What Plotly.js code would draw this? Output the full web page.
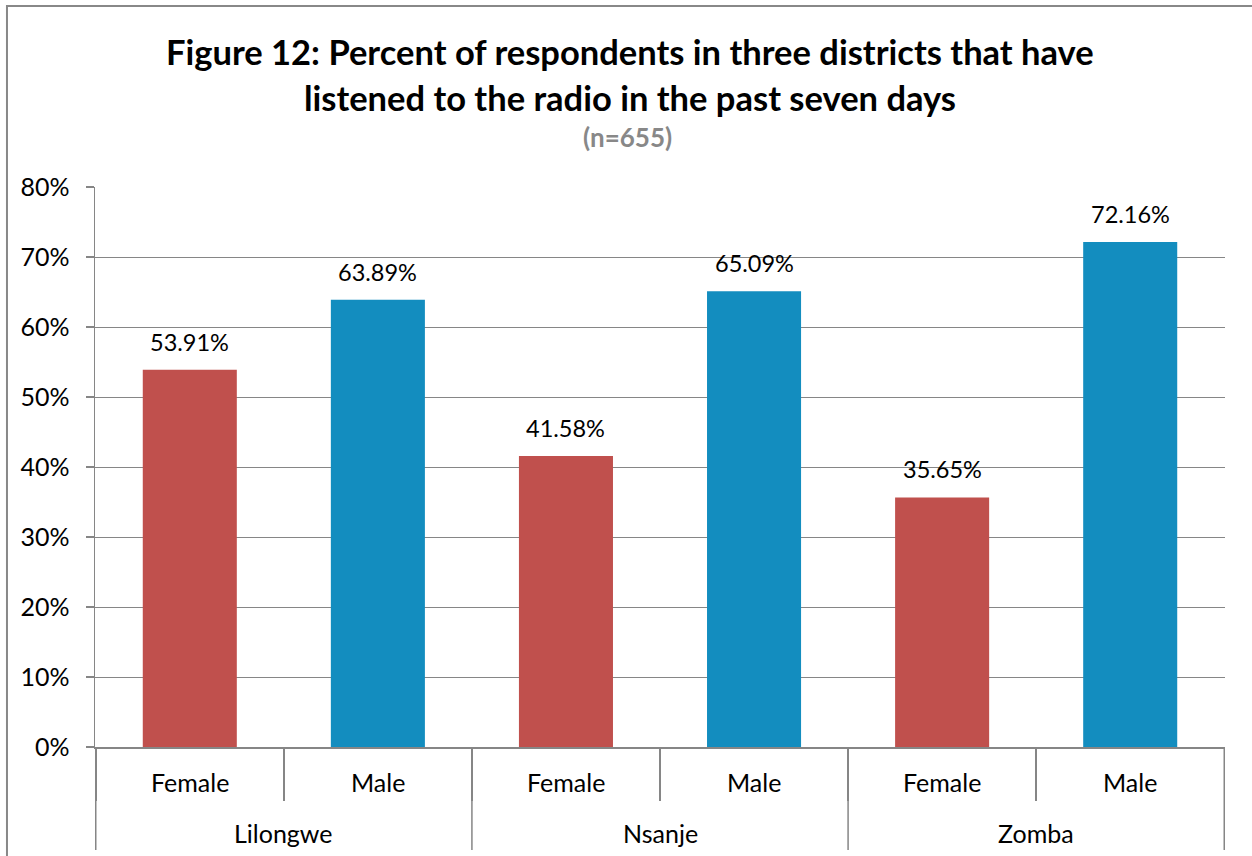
<!DOCTYPE html>
<html>
<head>
<meta charset="utf-8">
<script src="https://cdn.plot.ly/plotly-3.0.1.min.js"></script>
<style>html,body{margin:0;padding:0;background:#fff;}#chart{width:1252px;height:856px;}</style>
</head>
<body>
<div id="chart"></div>
<script>
var districts = ["Lilongwe", "Lilongwe", "Nsanje", "Nsanje", "Zomba", "Zomba"];
var genders = ["Female", "Male", "Female", "Male", "Female", "Male"];
var percentValues = [53.91, 63.89, 41.58, 65.09, 35.65, 72.16];
var genderColors = {Female: "#C0504D", Male: "#138DBF"};
var titleLines = ["Figure 12: Percent of respondents in three districts that have", "listened to the radio in the past seven days"];
var subtitle = "(n=655)";

var FONT = "Lato, 'Open Sans', sans-serif";
var GRID = "#868686";

var trace = {
  type: "bar",
  x: [districts, genders],
  y: percentValues,
  marker: {color: genders.map(function(g){ return genderColors[g]; })},
  width: 0.5,
  hoverinfo: "skip"
};

// value labels above bars
var annotations = percentValues.map(function(v, i){
  return {xref: "x", yref: "y", x: i, y: v, text: v.toFixed(2) + "%",
    showarrow: false, yanchor: "bottom", yshift: 12,
    font: {family: FONT, size: 23.5, color: "#000"}};
});
// inner category labels
genders.forEach(function(g, i){
  annotations.push({xref: "x", yref: "paper", x: i, y: -0.0625, text: g,
    showarrow: false, xanchor: "center", yanchor: "middle",
    font: {family: FONT, size: 25, color: "#000"}});
});
// outer group labels and group boundaries
var groups = [];
districts.forEach(function(d, i){
  if (!groups.length || groups[groups.length - 1].name !== d) groups.push({name: d, first: i, last: i});
  else groups[groups.length - 1].last = i;
});
groups.forEach(function(g){
  annotations.push({xref: "x", yref: "paper", x: (g.first + g.last) / 2, y: -0.1536, text: g.name,
    showarrow: false, xanchor: "center", yanchor: "middle",
    font: {family: FONT, size: 25, color: "#000"}});
});
var boundaries = [groups[0].first - 0.5].concat(groups.map(function(g){ return g.last + 0.5; }));
var shapes = boundaries.map(function(b){
  return {type: "line", xref: "x", yref: "paper", x0: b, x1: b, y0: 0, y1: -0.184,
    line: {color: GRID, width: 1.5}};
});
shapes.push({
  type: "path", xref: "paper", yref: "paper",
  path: "M -0.0779 -0.25 L -0.0779 1.3232 L 1.05 1.3232",
  line: {color: "#888888", width: 2}
});

annotations.push({xref: "paper", yref: "paper", x: 0.4735, y: 1.2411, text: "<b>" + titleLines[0] + "</b>",
  showarrow: false, xanchor: "center", yanchor: "middle", font: {family: FONT, size: 34.5, color: "#000"}});
annotations.push({xref: "paper", yref: "paper", x: 0.4735, y: 1.1607, text: "<b>" + titleLines[1] + "</b>",
  showarrow: false, xanchor: "center", yanchor: "middle", font: {family: FONT, size: 34.5, color: "#000"}});
annotations.push({xref: "paper", yref: "paper", x: 0.4708, y: 1.0893, text: "<b>" + subtitle + "</b>",
  showarrow: false, xanchor: "center", yanchor: "middle", font: {family: FONT, size: 26, color: "#888888"}});

var layout = {
  width: 1252, height: 856,
  margin: {l: 95, r: 27, t: 187, b: 109},
  paper_bgcolor: "#fff", plot_bgcolor: "#fff",
  showlegend: false,
  font: {family: FONT, size: 25, color: "#000"},
  xaxis: {
    type: "multicategory",
    showline: true, linecolor: GRID, linewidth: 1.5,
    showgrid: false,
    ticks: "outside", tickson: "boundaries", ticklen: 52, tickcolor: GRID, tickwidth: 1.5,
    showdividers: false,
    showticklabels: false
  },
  yaxis: {
    range: [0, 80], dtick: 10, ticksuffix: "%",
    showline: true, linecolor: GRID, linewidth: 1.5,
    showgrid: true, gridcolor: GRID, gridwidth: 1,
    zeroline: false,
    ticks: "outside", ticklen: 8, tickcolor: GRID, tickwidth: 1.5,
    ticklabelstandoff: 11,
    tickfont: {family: FONT, size: 25, color: "#000"}
  },
  annotations: annotations,
  shapes: shapes
};

Plotly.newPlot("chart", [trace], layout, {displayModeBar: false, staticPlot: true});
</script>
</body>
</html>
